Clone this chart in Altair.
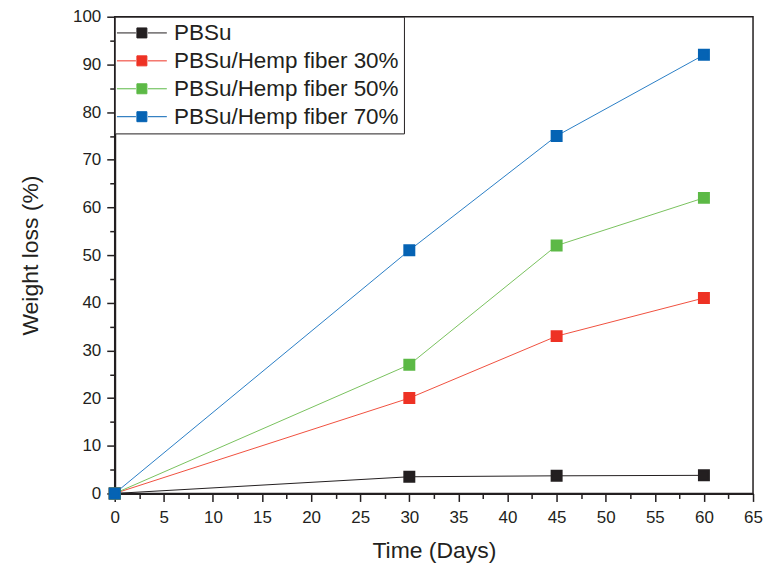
import altair as alt
import pandas as pd

days = [0, 30, 45, 60]
series_names = ["PBSu", "PBSu/Hemp fiber 30%", "PBSu/Hemp fiber 50%", "PBSu/Hemp fiber 70%"]
pbsu = [0, 3.5, 3.7, 3.8]
hemp30 = [0, 20, 33, 41]
hemp50 = [0, 27, 52, 62]
hemp70 = [0, 51, 75, 92]
colors = ["#231f20", "#ee3224", "#5cb946", "#0563b4"]
line_colors = ["#231f20", "#f0503f", "#79c25e", "#2a7ec6"]

x_major = list(range(0, 70, 5))
x_minor = [v + 2.5 for v in range(0, 65, 5)]
y_major = list(range(0, 110, 10))
y_minor = list(range(5, 100, 10))

rows = []
for name, vals in zip(series_names, [pbsu, hemp30, hemp50, hemp70]):
    for d, v in zip(days, vals):
        rows.append({"Time": d, "Loss": v, "Series": name})
df = pd.DataFrame(rows)

xscale = alt.Scale(domain=[0, 65], nice=False, zero=False)
yscale = alt.Scale(domain=[0, 100], nice=False)

legend = alt.Legend(
    title=None,
    orient="none",
    legendX=0,
    legendY=0,
    strokeColor="#231f20",
    fillColor="white",
    padding=5,
    rowPadding=5,
    labelFont="Liberation Sans",
    labelFontSize=22.5,
    labelColor="#231f20",
    labelOffset=21,
    labelLimit=400,
    symbolType="M-5,0H-1.2M1.2,0H5M-1,-1H1V1H-1Z",
    symbolSize=100,
    symbolStrokeWidth=1,
    symbolOffset=11,
)

lines = alt.Chart(df).mark_line(strokeWidth=1).encode(
    x=alt.X("Time:Q", scale=xscale,
            axis=alt.Axis(title="Time (Days)", values=x_major, orient="bottom", tickSize=8)),
    y=alt.Y("Loss:Q", scale=yscale,
            axis=alt.Axis(title="Weight loss (%)", values=y_major, orient="left", tickSize=8)),
    color=alt.Color("Series:N", scale=alt.Scale(domain=series_names, range=line_colors), legend=None),
)

points = alt.Chart(df).mark_point(shape="square", size=100, filled=True, opacity=1).encode(
    x=alt.X("Time:Q", scale=xscale,
            axis=alt.Axis(title=None, values=x_minor, orient="bottom", labels=False,
                          domain=False, tickSize=5)),
    y=alt.Y("Loss:Q", scale=yscale,
            axis=alt.Axis(title=None, values=y_minor, orient="left", labels=False,
                          domain=False, tickSize=5)),
    fill=alt.Fill("Series:N", scale=alt.Scale(domain=series_names, range=colors), legend=legend),
    stroke=alt.Stroke("Series:N", scale=alt.Scale(domain=series_names, range=colors), legend=legend),
)

chart = alt.layer(lines, points).resolve_axis(x="independent", y="independent").resolve_scale(
    color="independent", fill="independent", stroke="independent"
).properties(
    width=640,
    height=478,
    autosize=alt.AutoSizeParams(type="none"),
    padding={"left": 107, "top": 8, "right": 10, "bottom": 72},
).configure_view(
    stroke="#231f20", strokeWidth=1.5
).configure_axis(
    grid=False,
    domainColor="#231f20",
    domainWidth=2,
    tickColor="#231f20",
    tickWidth=1.5,
    labelFont="Liberation Sans",
    labelFontSize=17,
    labelColor="#231f20",
    labelFlush=False,
    titleFont="Liberation Sans",
    titleFontSize=23,
    titleFontWeight="normal",
    titleColor="#231f20",
).configure_axisX(
    titlePadding=14,
    labelPadding=8,
).configure_axisY(
    titlePadding=30,
    labelPadding=6,
)

chart.save("out.html", embed_options={"renderer": "svg", "actions": False})
